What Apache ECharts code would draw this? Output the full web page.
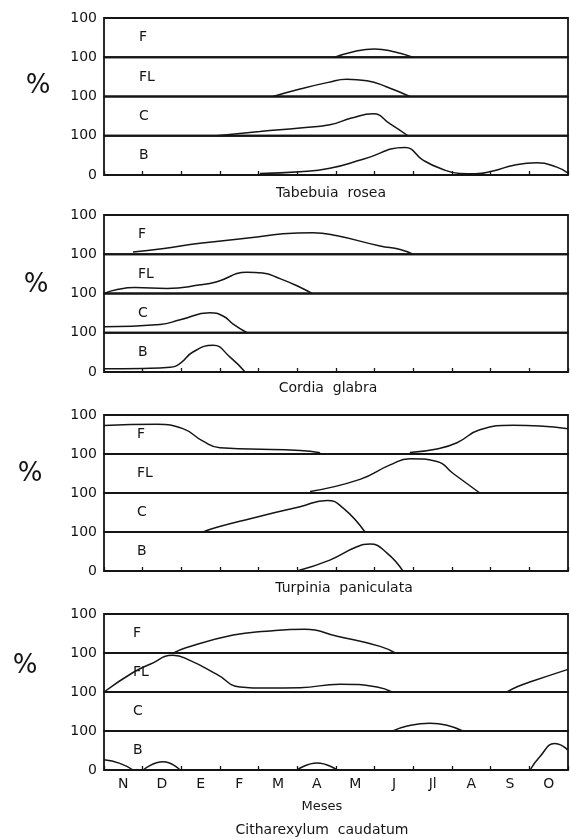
<!DOCTYPE html>
<html><head><meta charset="utf-8">
<script src="https://cdn.jsdelivr.net/npm/echarts@6/dist/echarts.min.js"></script>
<style>html,body{margin:0;padding:0;background:#fff}#c{width:570px;height:838px}</style>
</head><body><div id="c"></div>
<script>
// ---------- data ----------
const months = ['N','D','E','F','M','A','M','J','Jl','A','S','O'];
const stripLabels = ['F','FL','C','B'];
const species = ['Tabebuia  rosea','Cordia  glabra','Turpinia  paniculata','Citharexylum  caudatum'];
const axisTitle = 'Meses';
const yTopLabel = '100';
const yBottomLabel = '0';
// curves: x in months from start of N (0..12), y in %
const tabebuiaF  = [[[5.97,0],[6.4,13],[7.0,21],[7.5,14],[7.99,0]]];
const tabebuiaFL = [[[4.37,0],[5.07,19],[5.8,36],[6.28,44],[6.8,40],[7.3,25],[7.91,0]]];
const tabebuiaC  = [[[2.92,0],[4.03,11],[5.07,20],[5.84,28],[6.4,45],[6.96,56],[7.4,30],[7.86,0]]];
const tabebuiaB  = [[[4.03,4],[5.07,8],[5.84,17],[6.7,40],[7.78,70],[8.25,38],[8.69,17],[9.2,4],[9.6,3],[10.06,10],[10.6,25],[11.2,31],[11.71,20],[12,5]]];

const cordiaF  = [[[0.75,6],[1.5,14],[2.48,28],[3.78,42],[4.63,52],[5.4,55],[6.03,47],[7.14,21],[7.66,12],[7.99,0]]];
const cordiaFL = [[[0,0],[0.34,10],[0.8,15],[1.63,13],[2.5,22],[2.92,30],[3.7,54],[4.1,52],[4.55,38],[5.07,16],[5.38,0]]];
const cordiaC  = [[[0,15],[1.45,21],[1.97,33],[2.74,51],[3.09,42],[3.34,22],[3.7,0]]];
const cordiaB  = [[[0,8],[1.0,9],[1.71,12],[1.97,22],[2.3,51],[2.82,68],[3.26,38],[3.65,0]]];

const turpiniaF  = [[[0,73],[1.37,76],[2.04,65],[2.56,33],[3.0,16],[3.78,13],[5.07,9],[5.59,3]],
                    [[7.91,4],[8.61,13],[9.13,29],[9.72,62],[10.58,74],[11.27,72],[12,65]]];
const turpiniaFL = [[[5.33,4],[6.62,35],[7.4,72],[7.91,88],[8.61,81],[9.03,50],[9.72,0]]];
const turpiniaC  = [[[2.56,0],[2.92,12],[3.78,34],[5.07,65],[5.77,81],[6.18,62],[6.75,0]]];
const turpiniaB  = [[[4.99,0],[5.84,28],[6.54,62],[6.88,69],[7.32,46],[7.73,0]]];

const citharexylumF  = [[[1.8,0],[2.1,13],[3.34,46],[4.2,56],[5.2,61],[6.03,43],[7.14,17],[7.53,0]]];
const citharexylumFL = [[[0,0],[0.75,50],[1.19,71],[1.78,94],[2.22,81],[2.92,45],[3.52,13],[4.2,10],[5.07,11],[6.1,20],[7.06,13],[7.45,0]],
                        [[10.42,0],[10.7,14],[11.09,28],[12,58]]];
const citharexylumC  = [[[7.47,0],[7.84,13],[8.43,20],[8.87,15],[9.28,0]]];
const citharexylumB  = [[[0,26],[0.41,17],[0.75,0]],[[1.01,0],[1.53,21],[1.97,0]],
                        [[4.99,0],[5.51,18],[6.03,0]],[[11.02,0],[11.27,34],[11.66,68],[12,51]]];

// ---------- layout ----------
const curves = [
  [tabebuiaF, tabebuiaFL, tabebuiaC, tabebuiaB],
  [cordiaF, cordiaFL, cordiaC, cordiaB],
  [turpiniaF, turpiniaFL, turpiniaC, turpiniaB],
  [citharexylumF, citharexylumFL, citharexylumC, citharexylumB]
];
const panelTop = [18, 215, 415, 614];
const panelBottom = [175, 372, 571, 770];
const gridLeft = 104, gridWidth = 464;
const labelX = [139, 138, 137, 133];
const pctPos = [[38,86],[36,285],[30,474],[25,666]];
const speciesPos = [[331,193],[328,388],[344,588],[322,830]];
const FONT = 'DejaVu Sans';
const INK = '#151515';

const grids = [], xAxes = [], yAxes = [], series = [], graphics = [];
for (let p = 0; p < 4; p++) {
  const H = (panelBottom[p] - panelTop[p]) / 4;
  for (let s = 0; s < 4; s++) {
    const idx = p * 4 + s;
    const top = panelTop[p] + s * H;
    grids.push({left: gridLeft, width: gridWidth, top: top, height: H, show: true,
      borderColor: INK, borderWidth: 1.8, backgroundColor: 'transparent'});
    xAxes.push({gridIndex: idx, type: 'value', min: 0, max: 12, interval: 1,
      axisLine: {show: false}, splitLine: {show: false}, axisLabel: {show: false},
      axisTick: {show: s === 3, inside: true, length: 4, lineStyle: {color: INK, width: 1.3}}});
    yAxes.push({gridIndex: idx, type: 'value', min: 0, max: 100, interval: 100,
      axisLine: {show: false}, axisTick: {show: false}, splitLine: {show: false},
      axisLabel: {showMinLabel: s === 3, showMaxLabel: true, margin: 7,
        formatter: v => v === 0 ? yBottomLabel : yTopLabel,
        fontSize: 14, fontFamily: FONT, color: INK}});
    curves[p][s].forEach(seg => {
      series.push({type: 'line', xAxisIndex: idx, yAxisIndex: idx, data: seg,
        smooth: 0.5, showSymbol: false, silent: true,
        lineStyle: {color: INK, width: 1.5}, z: 3});
    });
    graphics.push({type: 'text', x: labelX[p], y: top + H / 2,
      style: {text: stripLabels[s], fontSize: 14, fontFamily: FONT, fill: INK,
        textAlign: 'left', textVerticalAlign: 'middle', verticalAlign: 'middle'}});
  }
  graphics.push({type: 'text', x: pctPos[p][0], y: pctPos[p][1],
    style: {text: '%', fontSize: 26, fontFamily: FONT, fill: INK,
      textAlign: 'center', textVerticalAlign: 'middle', verticalAlign: 'middle'}});
  graphics.push({type: 'text', x: speciesPos[p][0], y: speciesPos[p][1],
    style: {text: species[p], fontSize: 14, fontFamily: FONT, fill: INK,
      textAlign: 'center', textVerticalAlign: 'middle', verticalAlign: 'middle'}});
}
// month labels on the last panel
xAxes.push({gridIndex: 15, type: 'category', data: months, boundaryGap: true, position: 'bottom',
  axisLine: {show: false}, axisTick: {show: false}, splitLine: {show: false},
  axisLabel: {margin: 7, fontSize: 14, fontFamily: FONT, color: INK}});
graphics.push({type: 'text', x: 322, y: 807,
  style: {text: axisTitle, fontSize: 13, fontFamily: FONT, fill: INK,
    textAlign: 'center', textVerticalAlign: 'middle', verticalAlign: 'middle'}});

const chart = echarts.init(document.getElementById('c'), null, {renderer: 'canvas'});
chart.setOption({
  animation: false,
  backgroundColor: '#fff',
  grid: grids, xAxis: xAxes, yAxis: yAxes, series: series, graphic: graphics
});
</script></body></html>
